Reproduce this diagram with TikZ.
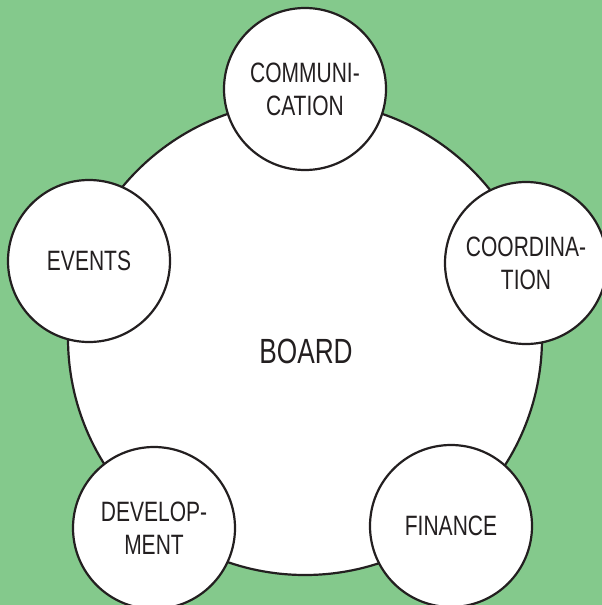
\documentclass[tikz,border=0pt]{standalone}
\usepackage{fontspec}
\setmainfont{Liberation Sans}[FakeStretch=0.75]
\usetikzlibrary{positioning}

\definecolor{bggreen}{RGB}{132,201,140}
\definecolor{ink}{RGB}{35,31,32}

\begin{document}
\begin{tikzpicture}[
    x=1pt, y=-1pt,
    big/.style={circle, draw=ink, line width=2.2pt, fill=white, minimum size=474pt, inner sep=0pt},
    team/.style={circle, draw=ink, line width=2.2pt, fill=white, minimum size=162pt, inner sep=0pt, align=center, text=ink, font=\fontsize{28}{33}\selectfont}
]

% Background
\fill [bggreen] (0,0) rectangle (602,605);
\clip (0,0) rectangle (602,605);

% Nodes
\node [big] (board) at (305,338) {};
\node at (306,351) [text=ink, font=\fontsize{35}{40}\selectfont] (boardlabel) {BOARD};
\node [team] (communication) at (305,89) {COMMUNI-\\CATION};
\node [team] (coordination) at (526,263) {COORDINA-\\TION};
\node [team] (finance) at (451,526) {FINANCE};
\node [team] (development) at (154,528) {DEVELOP-\\MENT};
\node [team] (events) at (89,261) {EVENTS};

\end{tikzpicture}
\end{document}
